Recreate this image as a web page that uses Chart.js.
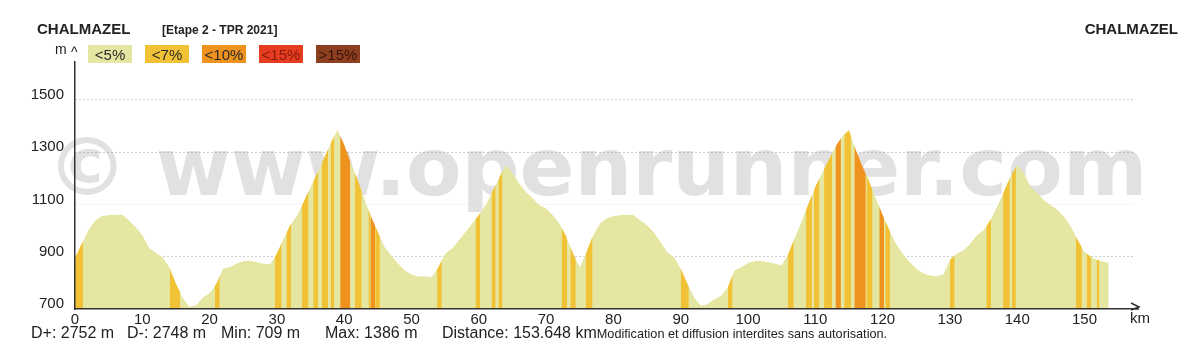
<!DOCTYPE html>
<html>
<head>
<meta charset="utf-8">
<script src="https://cdn.jsdelivr.net/npm/chart.js@4.4.0/dist/chart.umd.min.js"></script>
<style>
  html, body { margin: 0; padding: 0; background: #fff; }
  canvas { display: block; }
</style>
</head>
<body>
<canvas id="profil" width="1194" height="364"></canvas>
<script>
const km = [
  0, 1, 2, 3, 4, 5, 6, 7, 8, 9, 10, 11, 12, 13, 14, 15, 16, 17, 18, 19,
  20, 21, 22, 23, 24, 25, 26, 27, 28, 29, 30, 31, 32, 33, 34, 35, 36, 37, 38, 39,
  40, 41, 42, 43, 44, 45, 46, 47, 48, 49, 50, 51, 52, 53, 54, 55, 56, 57, 58, 59,
  60, 61, 62, 63, 64, 65, 66, 67, 68, 69, 70, 71, 72, 73, 74, 75, 76, 77, 78, 79,
  80, 81, 82, 83, 84, 85, 86, 87, 88, 89, 90, 91, 92, 93, 94, 95, 96, 97, 98, 99,
  100, 101, 102, 103, 104, 105, 106, 107, 108, 109, 110, 111, 112, 113, 114, 115, 116, 117, 118, 119,
  120, 121, 122, 123, 124, 125, 126, 127, 128, 129, 130, 131, 132, 133, 134, 135, 136, 137, 138, 139,
  140, 141, 142, 143, 144, 145, 146, 147, 148, 149, 150, 151, 152, 153, 153.6
];
const elev = [
  895, 950, 1002, 1040, 1056, 1060, 1062, 1062, 1040, 1015, 983, 935, 915, 899, 861, 797, 745, 709, 715, 745,
  761, 797, 855, 861, 874, 884, 886, 880, 874, 871, 912, 970, 1021, 1060, 1111, 1168, 1220, 1277, 1335, 1386,
  1328, 1258, 1194, 1123, 1053, 995, 938, 906, 874, 848, 833, 825, 825, 822, 861, 912, 931, 963, 995, 1027,
  1060, 1098, 1149, 1200, 1252, 1220, 1181, 1149, 1124, 1098, 1085, 1060, 1027, 976, 912, 861, 918, 983, 1027, 1047,
  1056, 1060, 1062, 1060, 1040, 1021, 995, 957, 918, 899, 855, 797, 745, 713, 719, 738, 751, 784, 848, 861,
  877, 884, 884, 880, 874, 867, 912, 976, 1040, 1104, 1168, 1220, 1271, 1322, 1361, 1384, 1310, 1245, 1188, 1124,
  1060, 1002, 950, 912, 880, 855, 838, 829, 825, 833, 887, 912, 925, 950, 983, 1002, 1040, 1092, 1149, 1207,
  1252, 1220, 1168, 1143, 1117, 1098, 1079, 1053, 1015, 963, 918, 899, 887, 880, 878
];

// bandes de pente : [debut km, fin km, classe]
const stripes = [
  [0, 1.2, 1], [14.1, 15.6, 1], [20.8, 21.5, 1], [29.7, 30.7, 1], [31.4, 32.1, 1],
  [33.7, 34.7, 1], [35.4, 36.1, 1], [36.7, 37.6, 1], [38.0, 38.5, 1], [39.4, 40.9, 2],
  [41.6, 42.6, 1], [43.6, 43.9, 1], [43.9, 44.6, 2], [44.6, 45.3, 1], [53.8, 54.5, 1],
  [59.5, 60.2, 1], [61.9, 62.5, 1], [62.9, 63.5, 1], [72.3, 73.1, 1], [73.6, 74.4, 1],
  [75.9, 76.9, 1], [90.0, 91.2, 1], [97.0, 97.7, 1], [105.9, 106.8, 1], [108.6, 109.5, 1],
  [109.8, 110.6, 1], [111.3, 112.5, 1], [113.0, 113.8, 2], [114.3, 115.3, 1], [115.8, 117.5, 2],
  [117.6, 118.5, 1], [119.5, 120.2, 2], [120.4, 121.1, 1], [130.0, 130.7, 1], [135.4, 136.1, 1],
  [137.9, 138.9, 1], [139.2, 139.8, 1], [148.7, 149.6, 1], [150.3, 151.0, 1], [151.8, 152.2, 1]
];

const gradeLabels = ['<5%', '<7%', '<10%', '<15%', '>15%'];
const gradeColors = ['#e4e6a2', '#f2c236', '#f0931e', '#e63c1f', '#8e3f20'];
const gradeText = ['#2a2a2a', '#2a2a2a', '#2a2a2a', '#8a1a0c', '#3a1408'];

const xTicks = [0, 10, 20, 30, 40, 50, 60, 70, 80, 90, 100, 110, 120, 130, 140, 150];
const yTicks = [700, 900, 1100, 1300, 1500];

const stats = ['D+: 2752 m', 'D-: 2748 m', 'Min: 709 m', 'Max: 1386 m', 'Distance: 153.648 km'];
const statsX = [31, 127, 221, 325, 442];

const Y_MIN = 700, Y_MAX = 1645, X_MAX = 157.2;

const profilePts = km.map((k, i) => ({ x: k, y: elev[i] }));
const stripePts = [];
stripes.forEach(s => {
  stripePts.push({ x: s[0], y: Y_MAX });
  stripePts.push({ x: s[1], y: Y_MAX });
});

const decor = {
  id: 'decor',
  beforeDraw(chart) {
    const c = chart.ctx;
    c.save();
    c.fillStyle = '#fff';
    c.fillRect(0, 0, chart.width, chart.height);
    // filigrane
    c.fillStyle = '#e1e1e1';
    c.font = 'bold 81px "DejaVu Sans"';
    c.textAlign = 'center';
    c.textBaseline = 'alphabetic';
    c.fillText('© www.openrunner.com', 597, 195);
    c.restore();
  },
  beforeDatasetsDraw(chart) {
    // les bandes de pente restent sous le profil
    const c = chart.ctx;
    const pts = chart.getDatasetMeta(0).data;
    const bottom = chart.chartArea.bottom;
    c.save();
    c.beginPath();
    c.moveTo(pts[0].x, bottom);
    pts.forEach(p => c.lineTo(p.x, p.y));
    c.lineTo(pts[pts.length - 1].x, bottom);
    c.closePath();
    c.clip();
  },
  afterDatasetsDraw(chart) {
    chart.ctx.restore();
  },
  afterDraw(chart) {
    const c = chart.ctx;
    const a = chart.chartArea;
    c.save();
    c.fillStyle = '#222';
    c.textBaseline = 'alphabetic';
    c.font = 'bold 15px "Liberation Sans", Arial';
    c.textAlign = 'left';
    c.fillText('CHALMAZEL', 37, 34);
    c.textAlign = 'right';
    c.fillText('CHALMAZEL', 1178, 34);
    c.textAlign = 'left';
    c.font = 'bold 12px "Liberation Sans", Arial';
    c.fillText('[Etape 2 - TPR 2021]', 162, 34);

    // legende des pentes
    const boxX = [88, 145, 202, 259, 316];
    c.font = '15px "Liberation Sans", Arial';
    c.textAlign = 'center';
    gradeLabels.forEach((l, i) => {
      c.fillStyle = gradeColors[i];
      c.fillRect(boxX[i], 45, 44, 18);
      c.fillStyle = gradeText[i];
      c.fillText(l, boxX[i] + 22, 59.5);
    });

    // axes : fleches et unites
    c.fillStyle = '#222';
    c.textAlign = 'left';
    c.font = '14px "Liberation Sans", Arial';
    c.fillText('m', 55, 54);
    c.fillText('^', 71, 57);
    c.strokeStyle = '#333';
    c.lineWidth = 1.5;
    c.beginPath();
    c.moveTo(a.right, a.bottom);
    c.lineTo(1139, a.bottom);
    c.moveTo(1131, a.bottom - 6);
    c.lineTo(1139, a.bottom - 2);
    c.lineTo(1131, a.bottom + 1);
    c.stroke();
    c.font = '15px "Liberation Sans", Arial';
    c.textAlign = 'center';
    c.fillText('km', 1140, 323);

    // statistiques
    c.textAlign = 'left';
    c.font = '16px "Liberation Sans", Arial';
    stats.forEach((s, i) => c.fillText(s, statsX[i], 338));
    const endX = statsX[4] + c.measureText(stats[4]).width;
    c.font = '12.7px "Liberation Sans", Arial';
    c.fillText('Modification et diffusion interdites sans autorisation.', endX, 338);
    c.restore();
  }
};

new Chart(document.getElementById('profil'), {
  type: 'line',
  data: {
    datasets: [
      {
        label: 'altitude',
        data: profilePts,
        fill: 'start',
        backgroundColor: gradeColors[0],
        borderWidth: 0,
        pointRadius: 0,
        tension: 0,
        order: 2
      },
      {
        label: 'pentes',
        data: stripePts,
        fill: 'start',
        backgroundColor: 'rgba(0,0,0,0)',
        borderWidth: 0,
        pointRadius: 0,
        order: 1,
        segment: {
          backgroundColor: ctx => ctx.p0DataIndex % 2 === 0
            ? gradeColors[stripes[ctx.p0DataIndex / 2][2]]
            : 'rgba(0,0,0,0)'
        }
      }
    ]
  },
  options: {
    responsive: false,
    animation: false,
    devicePixelRatio: 1,
    layout: { padding: { top: 62, right: 61, left: 0, bottom: 0 } },
    plugins: { legend: { display: false }, tooltip: { enabled: false } },
    scales: {
      x: {
        type: 'linear',
        min: 0,
        max: X_MAX,
        afterBuildTicks: s => { s.ticks = xTicks.map(v => ({ value: v })); },
        afterFit: s => { s.height = 55; },
        grid: { display: false, drawTicks: false },
        border: { display: true, color: '#333', width: 1.5, z: 1 },
        ticks: {
          color: '#222',
          font: { family: '"Liberation Sans", Arial', size: 15 },
          padding: 2,
          maxRotation: 0,
          autoSkip: false,
          callback: v => String(v)
        }
      },
      y: {
        min: Y_MIN,
        max: Y_MAX,
        afterBuildTicks: s => { s.ticks = yTicks.map(v => ({ value: v })); },
        afterFit: s => { s.width = 75; },
        grid: {
          drawTicks: false,
          lineWidth: 1,
          color: ctx => ctx.tick.value === 700 ? 'rgba(0,0,0,0)'
            : (ctx.tick.value === 1100 ? '#d6d6d6' : '#9a9a9a')
        },
        border: { display: true, color: '#333', width: 1.5, dash: [1, 3], z: 1 },
        ticks: {
          color: '#222',
          font: { family: '"Liberation Sans", Arial', size: 15 },
          padding: 11,
          labelOffset: -5,
          callback: v => String(v)
        }
      }
    }
  },
  plugins: [decor]
});
</script>
</body>
</html>
